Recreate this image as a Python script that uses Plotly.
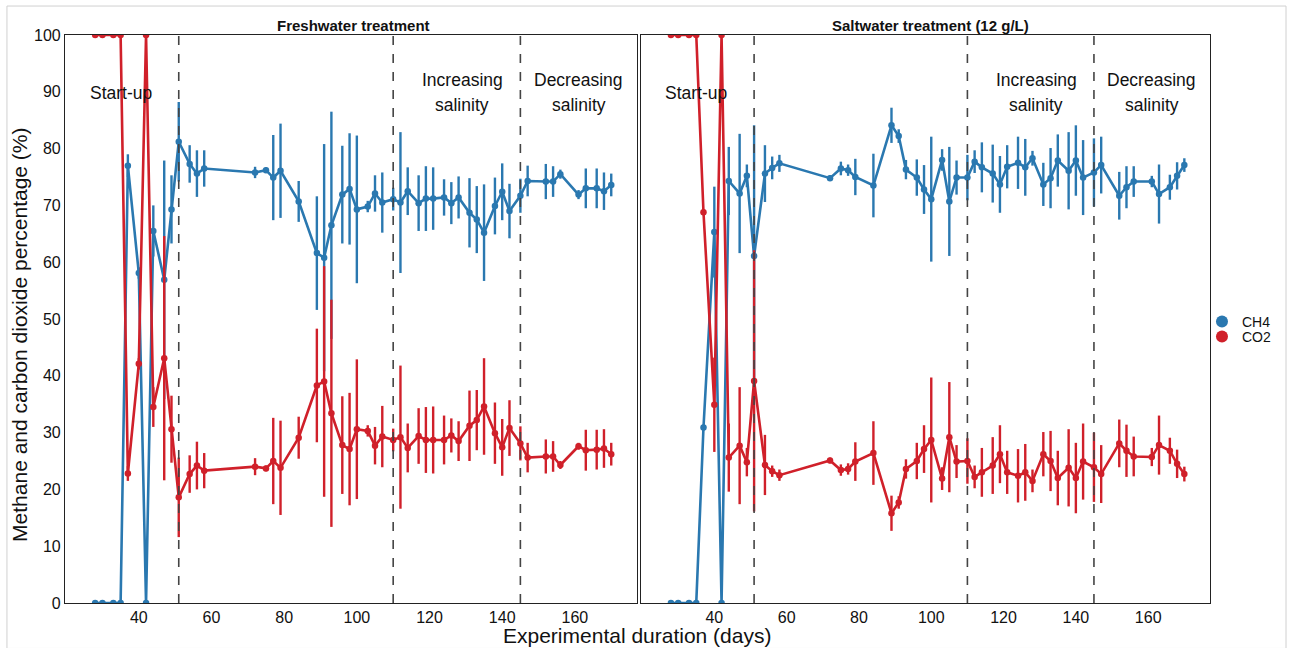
import plotly.graph_objects as go

# Sampling days (shared by both treatments)
days = [28, 30, 33, 35, 37, 40, 42, 44, 47, 49, 51, 54, 56, 58, 72, 75, 77, 79, 84,
        89, 91, 93, 96, 98, 100, 103, 105, 107, 110, 112, 114, 117, 119, 121, 124,
        126, 128, 131, 133, 135, 138, 140, 142, 145, 147, 152, 154, 156, 161, 163,
        166, 168, 170]

# Freshwater treatment: mean and standard deviation (%)
fresh_ch4 = [0, 0, 0, 0, 77.0, 58.1, 0, 65.5, 56.9, 69.3, 81.2, 77.3, 75.6, 76.5,
             75.8, 76.2, 74.9, 76.1, 70.7, 61.6, 60.8, 66.5, 71.9, 72.9, 69.3, 69.8,
             72.1, 70.5, 71.1, 70.5, 72.5, 70.4, 71.2, 71.2, 71.4, 70.4, 71.4, 68.7,
             67.5, 65.2, 69.9, 72.4, 69.0, 71.7, 74.3, 74.2, 74.2, 75.5, 71.9, 73.0,
             73.0, 72.5, 73.6]
fresh_ch4_sd = [0, 0, 0, 0, 2, 1, 0, 4.5, 21, 6, 7, 3.3, 4.1, 3.2, 1, 0.5, 7.5, 8.3,
                3.6, 10, 20, 20, 8.6, 9.8, 13, 1, 3.2, 5.3, 2, 12.4, 4.2, 4.9, 5.7,
                5.5, 3.2, 3.7, 3.7, 6.1, 5.9, 8.5, 5, 5, 4.8, 3, 2.7, 3.1, 2.7, 0.8,
                0.8, 3.5, 3.5, 3.3, 2]
fresh_co2 = [100, 100, 100, 100, 22.8, 42.1, 100, 34.5, 43.1, 30.6, 18.6, 22.7,
             24.2, 23.3, 24.0, 23.7, 25.0, 23.8, 29.1, 38.3, 39.0, 33.4, 27.8, 27.1,
             30.6, 30.3, 27.7, 29.3, 28.7, 29.2, 27.3, 29.4, 28.7, 28.7, 28.7, 29.5,
             28.5, 31.2, 32.2, 34.6, 29.9, 27.4, 30.8, 28.1, 25.6, 25.8, 25.8, 24.3,
             27.6, 26.9, 27.0, 27.2, 26.2]
fresh_co2_sd = [0, 0, 0, 0, 1.3, 1, 0, 3.5, 21.5, 5.9, 7, 3.3, 4.2, 3.1, 1.5, 0.5,
                7.6, 8.3, 3.7, 10, 20.3, 20, 8.6, 9.9, 12.3, 1, 3.3, 5.4, 2, 12.6,
                4.3, 4.9, 5.8, 5.9, 4.3, 3.0, 3.5, 6.2, 5.3, 8.5, 5.4, 5, 4.9, 3,
                2.6, 3, 2.7, 0.7, 0.6, 3.6, 3.5, 3.4, 2]

# Saltwater treatment (12 g/L): mean and standard deviation (%)
salt_ch4 = [0, 0, 0, 0, 30.9, 65.3, 0, 74.3, 72.1, 75.2, 61.1, 75.6, 76.6, 77.4,
            74.8, 76.5, 76.2, 75.0, 73.5, 84.1, 82.2, 76.3, 74.9, 72.8, 71.1, 78.0,
            70.7, 74.9, 74.9, 77.7, 76.7, 75.6, 73.7, 76.8, 77.5, 76.7, 78.3, 73.7,
            74.8, 77.9, 76.1, 77.9, 74.9, 75.8, 77.1, 71.7, 73.2, 74.2, 74.2, 72.0,
            73.2, 75.2, 77.1]
salt_ch4_sd = [0, 0, 0, 0, 0.5, 8, 0, 6, 10.5, 2, 23, 5, 2, 1.5, 0.5, 1.2, 1, 3.2,
               5.6, 3.1, 1.2, 1.7, 3.2, 4.3, 11, 1.9, 9.6, 3, 4, 2, 4.4, 5.1, 5, 3.8,
               4.6, 5, 1.3, 3.8, 5.3, 4.6, 6.8, 6.2, 6.6, 6, 5, 4.2, 3.7, 2.7, 1,
               5.2, 2.2, 2.4, 1.2]
salt_co2 = [100, 100, 100, 100, 68.8, 34.9, 100, 25.6, 27.7, 24.8, 39.1, 24.3,
            23.2, 22.5, 25.1, 23.4, 23.6, 24.9, 26.4, 15.8, 17.7, 23.6, 25.0, 27.1,
            28.7, 21.9, 29.2, 24.9, 25.0, 22.2, 23.0, 24.2, 26.2, 23.0, 22.4, 23.0,
            21.5, 26.2, 25.0, 22.0, 23.8, 22.0, 24.9, 23.9, 22.7, 28.1, 26.8, 25.8,
            25.7, 27.8, 26.8, 24.5, 22.7]
salt_co2_sd = [0, 0, 0, 0, 0.5, 8.3, 0, 6, 10.3, 2.5, 23, 5.3, 1, 1, 0.5, 1, 1, 3.4,
               5.6, 3.1, 1.1, 1.7, 3.2, 4.2, 11, 2, 9.7, 2.9, 4, 2, 4.3, 5, 5.1, 3.8,
               4.7, 5, 2, 3.9, 5.3, 4.8, 6.8, 6.2, 6.7, 6.1, 5.1, 4.2, 4.6, 3.5, 1.6,
               5.2, 2.3, 2.5, 1.3]

# Phase boundaries (days) and labels
phase_bounds = [51, 110, 145]
x_ticks = [40, 60, 80, 100, 120, 140, 160]
y_ticks = [0, 10, 20, 30, 40, 50, 60, 70, 80, 90, 100]
panel_titles = ["Freshwater treatment", "Saltwater treatment (12 g/L)"]

CH4_COLOR = "#2a78b0"
CO2_COLOR = "#d0202a"
FONT = "Liberation Sans, Arial, sans-serif"

fig = go.Figure()


def add_series(xa, ya, y, sd, color):
    fig.add_trace(go.Scatter(
        x=days, y=y, mode="lines+markers", xaxis=xa, yaxis=ya,
        line=dict(color=color, width=2.6),
        marker=dict(color=color, size=6.5),
        error_y=dict(type="data", array=sd, visible=True, color=color,
                     thickness=2.4, width=0),
        showlegend=False, hoverinfo="x+y",
    ))


add_series("x", "y", fresh_ch4, fresh_ch4_sd, CH4_COLOR)
add_series("x", "y", fresh_co2, fresh_co2_sd, CO2_COLOR)
add_series("x2", "y2", salt_ch4, salt_ch4_sd, CH4_COLOR)
add_series("x2", "y2", salt_co2, salt_co2_sd, CO2_COLOR)

# Legend entries (one small legend per gas, stacked tightly)
fig.add_trace(go.Scatter(x=[None], y=[None], mode="markers", name="CH4",
                         marker=dict(color=CH4_COLOR, size=8), legend="legend"))
fig.add_trace(go.Scatter(x=[None], y=[None], mode="markers", name="CO2",
                         marker=dict(color=CO2_COLOR, size=8), legend="legend2"))

# Dashed phase boundaries in both panels
shapes = []
for xref in ["x", "x2"]:
    for b in phase_bounds:
        shapes.append(dict(type="line", xref=xref, yref="paper", x0=b, x1=b,
                           y0=0, y1=1, line=dict(color="#444444", width=1.6,
                                                 dash="dash"), layer="above"))
# Thin outer frame
shapes.append(dict(type="rect", xref="paper", yref="paper",
                   x0=-0.0507, x1=1.0664, y0=-0.08, y1=1.051,
                   line=dict(color="#d0d0d0", width=1)))

annotations = []
label_font = dict(size=17.5, color="#111")
for xref, yref in [("x", "y"), ("x2", "y2")]:
    annotations.append(dict(xref=xref, yref=yref, x=35, y=89.8,
                            text="Start-up", showarrow=False, font=label_font))
    for xc, first in [(129, "Increasing"), (161, "Decreasing")]:
        annotations.append(dict(xref=xref, yref=yref, x=xc, y=92.1,
                                text=first, showarrow=False, font=label_font))
        annotations.append(dict(xref=xref, yref=yref, x=xc, y=87.6,
                                text="salinity", showarrow=False,
                                font=label_font))

# Panel titles
for xc, t in zip([0.2524, 0.7555], panel_titles):
    annotations.append(dict(xref="paper", yref="paper", x=xc, y=1.0176,
                            text="<b>" + t + "</b>", showarrow=False,
                            font=dict(size=15, color="#111"),
                            xanchor="center", yanchor="middle"))

# Axis titles
annotations.append(dict(xref="paper", yref="paper", x=0.4996, y=-0.0565,
                        text="Experimental duration (days)", showarrow=False,
                        font=dict(size=21, color="#111"),
                        xanchor="center", yanchor="middle"))
annotations.append(dict(xref="paper", yref="paper", x=-0.0393, y=0.472,
                        text="Methane and carbon dioxide percentage (%)",
                        showarrow=False, textangle=-90,
                        font=dict(size=21, color="#111"),
                        xanchor="center", yanchor="middle"))

axis_common = dict(range=[19.7, 177.1], tickvals=x_ticks, ticks="",
                   showgrid=False, zeroline=False, showline=True, mirror=True,
                   linecolor="#222", linewidth=1.2,
                   tickfont=dict(size=16, color="#111"))

legend_common = dict(xanchor="left", yanchor="middle", bgcolor="rgba(0,0,0,0)",
                     font=dict(size=14, color="#111"), itemsizing="constant")

fig.update_layout(
    width=1291, height=648,
    margin=dict(l=65, r=81, t=35, b=45),
    paper_bgcolor="white", plot_bgcolor="white",
    font=dict(family=FONT, color="#111"),
    xaxis=dict(domain=[0, 0.4996], anchor="y", **axis_common),
    xaxis2=dict(domain=[0.503, 1], anchor="y2", **axis_common),
    yaxis=dict(range=[0, 100], tickvals=y_ticks, ticks="", showgrid=False,
               zeroline=False, showline=True, mirror=True, linecolor="#222",
               linewidth=1.2, tickfont=dict(size=16, color="#111"),
               anchor="x"),
    yaxis2=dict(range=[0, 100], tickvals=y_ticks, showticklabels=False,
                ticks="", showgrid=False, zeroline=False, showline=True,
                mirror=True, linecolor="#222", linewidth=1.2, anchor="x2",
                matches="y"),
    legend=dict(x=0.993, y=0.4947, **legend_common),
    legend2=dict(x=0.993, y=0.4683, **legend_common),
    shapes=shapes,
    annotations=annotations,
)

fig.write_html("out.html")
